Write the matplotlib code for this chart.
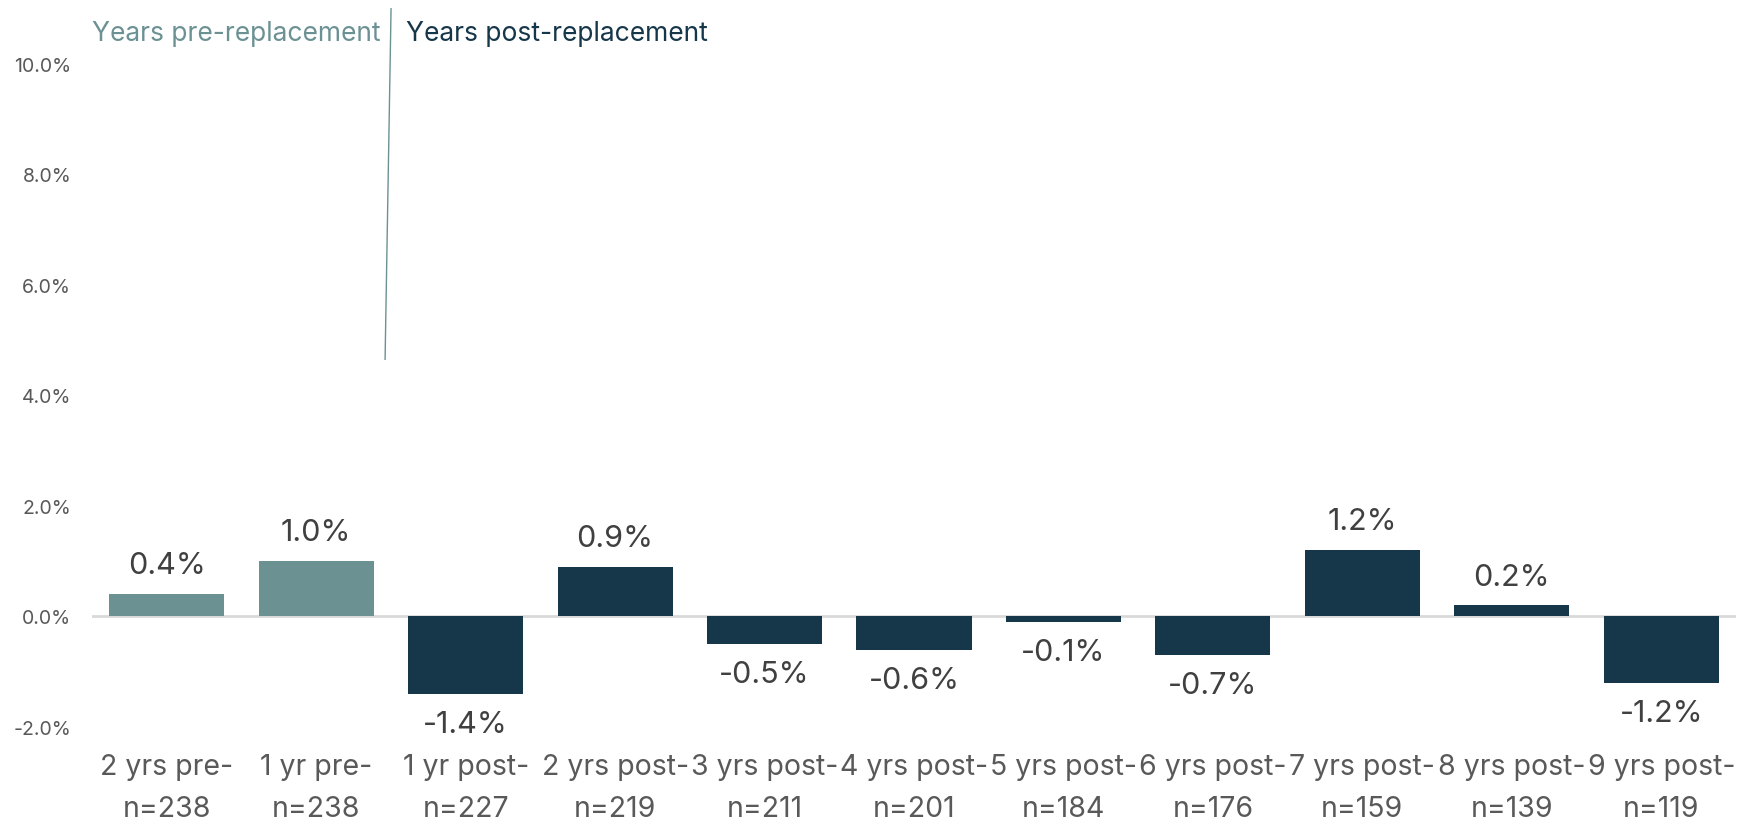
import numpy as np
import matplotlib.pyplot as plt

# bar data: change in value per period around replacement
periods = ["2 yrs pre-", "1 yr pre-", "1 yr post-", "2 yrs post-", "3 yrs post-",
           "4 yrs post-", "5 yrs post-", "6 yrs post-", "7 yrs post-", "8 yrs post-", "9 yrs post-"]
counts = [238, 238, 227, 219, 211, 201, 184, 176, 159, 139, 119]
changes = [0.4, 1.0, -1.4, 0.9, -0.5, -0.6, -0.1, -0.7, 1.2, 0.2, -1.2]
phase = ["pre", "pre", "post", "post", "post", "post", "post", "post", "post", "post", "post"]

preColor = "#6b9193"
postColor = "#16364a"
textColor = "#404040"
tickColor = "#595959"

plt.rcParams["font.family"] = ["Inter", "DejaVu Sans"]

fig = plt.figure(figsize=(17.43, 8.2), dpi=100)
ax = fig.add_axes([92/1743, 1-728/820, (1736-92)/1743, (728-64.5)/820])

x = np.arange(len(periods))
colors = [preColor if p == "pre" else postColor for p in phase]
ax.bar(x, changes, width=0.77, color=colors, zorder=2)
ax.axhline(0, color="#d9d9d9", lw=2, zorder=1)

for xi, v in zip(x, changes):
    off = 15 if v >= 0 else -27.5
    ax.annotate("{:.1f}%".format(v), (xi, v), xytext=(0, off), textcoords="offset points",
                ha="center", va="baseline", fontsize=22, color=textColor)

ax.set_xlim(-0.5, len(periods) - 0.5)
ax.set_ylim(-2, 10)
ax.set_yticks(np.arange(-2, 11, 2))
ax.set_yticklabels(["{:.1f}%".format(t) for t in np.arange(-2, 11, 2)])
ax.set_xticks(x)
ax.set_xticklabels(["{}\nn={}".format(p, n) for p, n in zip(periods, counts)], linespacing=1.7)
ax.tick_params(axis="y", length=0, pad=15, labelsize=14, labelcolor=tickColor)
ax.tick_params(axis="x", length=0, pad=19, labelsize=20.5, labelcolor=tickColor)
for s in ax.spines.values():
    s.set_visible(False)

# divider between pre and post periods
ax.plot([1.461, 1.501], [4.65, 10.99], color=preColor, lw=1, clip_on=False)
ax.text(1.43, 10.55, "Years pre-replacement", ha="right", va="center", fontsize=19, color=preColor)
ax.text(1.60, 10.55, "Years post-replacement", ha="left", va="center", fontsize=19, color=postColor)

fig.savefig("out.png", dpi=100)
